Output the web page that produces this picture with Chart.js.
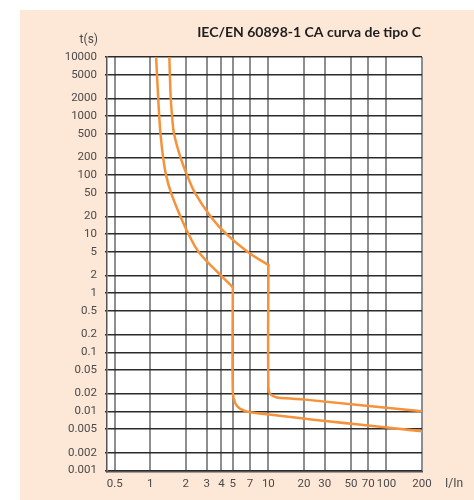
<!DOCTYPE html>
<html>
<head>
<meta charset="utf-8">
<script src="https://cdn.jsdelivr.net/npm/chart.js@4.4.1/dist/chart.umd.min.js"></script>
<style>
  html, body { margin: 0; padding: 0; background: #fff; }
</style>
</head>
<body>
<canvas id="chartCanvas" width="474" height="500"></canvas>
<script>
// tick values
const xTicks = [0.5, 1, 2, 3, 4, 5, 7, 10, 20, 30, 50, 70, 100, 200];
const yTicks = [0.001, 0.002, 0.005, 0.01, 0.02, 0.05, 0.1, 0.2, 0.5, 1, 2, 5,
                10, 20, 50, 100, 200, 500, 1000, 2000, 5000, 10000];

// lower limit of the C curve (I/In, t in s): thermal part, then magnetic part
const lowerThermalI = [1.12, 1.14, 1.167, 1.19, 1.22, 1.284, 1.36, 1.5, 1.8, 2.11, 2.57, 3.96, 5];
const lowerThermalT = [10000, 5000, 2000, 1000, 500, 200, 100, 50, 20, 10, 5, 2, 1.26];
const lowerMagI = [5, 5, 5.22, 5.74, 7, 200];
const lowerMagT = [1.26, 0.0208, 0.014, 0.0111, 0.0097, 0.0046];

// upper limit
const upperThermalI = [1.45, 1.465, 1.49, 1.53, 1.59, 1.8, 2.05, 2.39, 3.24, 4.42, 6.7, 10];
const upperThermalT = [10000, 5000, 2000, 1000, 500, 200, 100, 50, 20, 10, 5, 3.0];
const upperMagI = [10, 10, 10.35, 11.8, 15.4, 20.5, 200];
const upperMagT = [3.0, 0.0253, 0.0197, 0.0172, 0.0165, 0.0158, 0.01];

const toPoints = (xs, ys) => xs.map((x, i) => ({ x: x, y: ys[i] }));

const orange = '#f5923a';
const labelFont = { family: 'Roboto', size: 11.5 };

const panel = {
    id: 'panel',
    beforeDraw(chart) {
        const ctx = chart.ctx, a = chart.chartArea;
        ctx.save();
        ctx.fillStyle = '#fde7d7';
        ctx.fillRect(20, 10, chart.width - 20, chart.height - 10);
        ctx.fillStyle = '#ffffff';
        ctx.fillRect(a.left, a.top, a.right - a.left, a.bottom - a.top);
        ctx.restore();
    },
    afterDraw(chart) {
        const ctx = chart.ctx, a = chart.chartArea;
        ctx.save();
        ctx.textBaseline = 'middle';
        // title
        ctx.fillStyle = '#1e1e1e';
        ctx.font = 'bold 14px Lato';
        ctx.textAlign = 'right';
        ctx.fillText('IEC/EN 60898-1 CA curva de tipo C', a.right - 1, a.top - 25);
        // axis names
        ctx.fillStyle = '#4a4a4a';
        ctx.font = '12px Roboto';
        ctx.fillText('t(s)', a.left - 9, a.top - 17);
        ctx.textAlign = 'left';
        ctx.fillText('I/In', a.right + 23, a.bottom + 12);
        ctx.restore();
    }
};

new Chart(document.getElementById('chartCanvas').getContext('2d'), {
    type: 'scatter',
    data: {
        datasets: [
            { data: toPoints(lowerThermalI, lowerThermalT) },
            { data: toPoints(lowerMagI, lowerMagT) },
            { data: toPoints(upperThermalI, upperThermalT) },
            { data: toPoints(upperMagI, upperMagT) }
        ]
    },
    options: {
        responsive: false,
        devicePixelRatio: 1,
        animation: false,
        showLine: true,
        layout: { padding: { top: 57, right: 52, left: 0, bottom: 0 } },
        elements: {
            point: { radius: 0, hoverRadius: 0 },
            line: {
                borderColor: orange, borderWidth: 2.5, tension: 0.4,
                borderCapStyle: 'round', borderJoinStyle: 'round', fill: false
            }
        },
        plugins: {
            legend: { display: false },
            tooltip: { enabled: false }
        },
        scales: {
            x: {
                type: 'logarithmic',
                min: 0.43,
                max: 200,
                afterBuildTicks: s => { s.ticks = xTicks.map(v => ({ value: v })); },
                afterFit: s => { s.height = 28; },
                grid: { color: '#8e8e8e', lineWidth: 2, drawTicks: false },
                border: { color: '#555', width: 1.5 },
                ticks: {
                    autoSkip: false, maxRotation: 0, padding: 5,
                    color: '#4a4a4a', font: labelFont,
                    callback: v => String(v)
                }
            },
            y: {
                type: 'logarithmic',
                min: 0.00094,
                max: 10000,
                afterBuildTicks: s => { s.ticks = yTicks.map(v => ({ value: v })); },
                afterFit: s => { s.width = 107; },
                grid: { color: '#2b2b2b', lineWidth: 1.5, tickLength: 2 },
                border: { color: '#555', width: 1.5 },
                ticks: {
                    autoSkip: false, padding: 8,
                    color: '#4a4a4a', font: labelFont,
                    callback: v => String(v)
                }
            }
        }
    },
    plugins: [panel]
});
</script>
</body>
</html>
